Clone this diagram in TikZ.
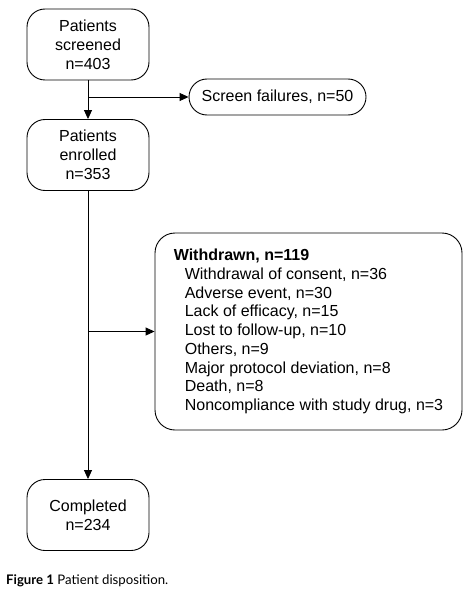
\documentclass[tikz,border=0pt]{standalone}
\usepackage{fontspec}
\setmainfont{Liberation Sans}
\newfontfamily\capfont{Lato}
\usetikzlibrary{arrows.meta}
\begin{document}
\begin{tikzpicture}[x=1pt,y=-1pt,
  stage/.style={draw,line width=0.9pt,rounded corners=18pt,minimum width=122pt,minimum height=71pt,align=center,font=\fontsize{16}{19}\selectfont,inner sep=0pt},
  flow/.style={-{Triangle[length=9pt,width=8pt]},line width=0.9pt}]
\useasboundingbox (0,0) rectangle (466,591);

\node[stage] (screened) at (88,44.5) {Patients\\screened\\n=403};
\node[stage,minimum width=177pt,minimum height=36pt] (fail) at (277.5,97) {Screen failures, n=50};
\node[stage] (enrolled) at (88,155) {Patients\\enrolled\\n=353};
\node[stage,rounded corners=20pt,minimum width=307pt,minimum height=197pt,align=left,
  font=\fontsize{16}{18.7}\selectfont] (withdrawn) at (308.5,331.5)
  {\textbf{Withdrawn, n=119}\\
   \hspace*{11pt}Withdrawal of consent, n=36\\
   \hspace*{11pt}Adverse event, n=30\\
   \hspace*{11pt}Lack of efficacy, n=15\\
   \hspace*{11pt}Lost to follow-up, n=10\\
   \hspace*{11pt}Others, n=9\\
   \hspace*{11pt}Major protocol deviation, n=8\\
   \hspace*{11pt}Death, n=8\\
   \hspace*{11pt}Noncompliance with study drug, n=3};
\node[stage] (completed) at (88,515) {Completed\\n=234};

\coordinate (split1) at (88,97);
\coordinate (split2) at (88,331.5);
\draw[flow] (screened) -- (enrolled);
\draw[flow] (split1) -- (fail);
\draw[flow] (enrolled) -- (completed);
\draw[flow] (split2) -- (withdrawn);

\node[anchor=base west,font=\capfont\fontsize{13.2}{15}\selectfont,inner sep=0pt] (caption) at (6,584)
  {\textbf{Figure 1} Patient disposition.};
\end{tikzpicture}
\end{document}
